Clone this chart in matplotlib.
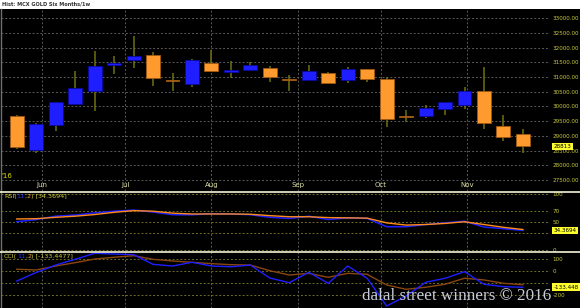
import matplotlib
matplotlib.use('Agg')
import matplotlib.pyplot as plt
import matplotlib.dates as mdates
import matplotlib.transforms as mtransforms
from matplotlib.offsetbox import TextArea, HPacker, AnchoredOffsetbox
from matplotlib.lines import Line2D
import pandas as pd

# ---------------- data ----------------
week_dates = pd.date_range('2016-05-23', periods=27, freq='7D')
opens  = [29680, 28520, 29360, 30085, 30527, 31422, 31572, 31742, 30890, 30776,
          31470, 31190, 31232, 31310, 30910, 30912, 31140, 30912, 31276, 30946,
          29660, 29667, 29905, 30051, 30527, 29347, 29055]
highs  = [29710, 29440, 30150, 31218, 31888, 31718, 32408, 31854, 31130, 31616,
          31922, 31548, 31514, 31388, 31061, 31422, 31174, 31354, 31280, 31014,
          29881, 30051, 30160, 30674, 31354, 29711, 29225]
lows   = [28545, 28430, 29180, 30080, 29857, 31106, 31320, 30708, 30538, 30674,
          31190, 30980, 31225, 30834, 30538, 30905, 30785, 30810, 30844, 29313,
          29463, 29599, 29721, 29915, 29245, 28817, 28409]
closes = [28630, 29395, 30140, 30619, 31378, 31480, 31718, 30980, 30870, 31572,
          31198, 31205, 31402, 30993, 30895, 31218, 30789, 31266, 30946, 29585,
          29645, 29960, 30153, 30538, 29429, 28953, 28640]
rsi     = [50, 54, 60, 62, 66, 69, 71, 67.5, 62.7, 62.5, 64.5, 64, 62.7, 58, 56,
           60, 54, 57, 56, 41, 41, 45, 48, 51, 40.5, 37.5, 34.37]
rsi_sig = [55, 55.5, 58, 60, 63, 67, 70, 69, 65.5, 64, 64, 64, 63.5, 61, 59,
           59, 57.5, 57, 56.5, 48, 44, 45, 47, 50, 45, 40, 36]
cci     = [-81, -10, 52, 100, 150, 144, 139, 58, 44, 75, 44, 38, 52, -56, -95,
           -8, -100, 44, -58, -289, -206, -92, -58, -3, -108, -128, -133.45]
cci_sig = [17, 11, 44, 72, 102, 117, 130, 100, 86, 75, 64, 55, 52, 5, -31,
           -17, -50, -17, -25, -114, -150, -133, -108, -58, -72, -100, -112]
month_starts = pd.date_range('2016-06-01', '2016-11-01', freq='MS')
month_labels = ['Jun', 'Jul', 'Aug', 'Sep', 'Oct', 'Nov']
price_ticks = list(range(27500, 33001, 500))
rsi_ticks = [0, 30, 50, 70, 100]
rsi_tick_labels = ['0', '', '50', '70', '100']
cci_ticks = [-200, -100, 0, 100]
cci_tick_labels = ['-200', '', '0', '100']
title = 'Hist: MCX GOLD Six Months/1w'
last_price_label = '28813'
rsi_value_label = '34.3694'
cci_value_label = '-133.448'

# ---------------- style ----------------
W, H = 580, 308
BLUE = '#1e1eff'
ORANGE = '#ff9a2e'
WICK = '#707010'
YEL = '#c8c83c'
GRID = '#5a5a5a'
OLGRID = '#6e6e28'
LBL = 4.1

fig = plt.figure(figsize=(W / 100, H / 100), dpi=100, facecolor='black')


def rect(x0, y0, x1, y1):
    return [x0 / W, 1 - y1 / H, (x1 - x0) / W, (y1 - y0) / H]


# title strip
ax_t = fig.add_axes(rect(0, 0, W, 9))
ax_t.set_facecolor('white')
ax_t.set_axis_off()
ax_t.add_patch(plt.Rectangle((0, 0), 1, 1, transform=ax_t.transAxes, color='white'))
ax_t.text(0.004, 0.5, title, transform=ax_t.transAxes, fontsize=3.6,
          fontweight='bold', color='#303030', va='center', ha='left')

ax_p = fig.add_axes(rect(1, 9, 550, 191))
ax_r = fig.add_axes(rect(1, 192, 550, 251))
ax_c = fig.add_axes(rect(1, 252, 550, 308))

x = mdates.date2num(week_dates)
xm = mdates.date2num(month_starts)
x0 = x[0] - 15.8 / 2.786
x1 = x[0] + (550 - 15.8) / 2.786

for ax in (ax_p, ax_r, ax_c):
    ax.set_facecolor('black')
    ax.set_xlim(x0, x1)
    for s in ax.spines.values():
        s.set_visible(False)
    ax.spines['left'].set_visible(True)
    ax.spines['left'].set_color('#707070')
    ax.spines['left'].set_linewidth(1.0)
    ax.set_xticks([])
    ax.yaxis.tick_right()
    ax.tick_params(axis='y', length=0, pad=2.0, labelsize=LBL, labelcolor=YEL)
    for xv in xm:
        ax.axvline(xv, color=GRID, lw=0.7, ls=(0, (2, 2)), zorder=0)

# ---------------- price panel ----------------
ax_p.set_ylim(27126, 33316)
ax_p.set_yticks(price_ticks)
ax_p.set_yticklabels([f'{v:.2f}' for v in price_ticks])
for v in price_ticks:
    ax_p.axhline(v, color=GRID, lw=0.7, ls=(0, (2, 2)), zorder=0)

ax_p.vlines(x, lows, highs, color=WICK, lw=1.1, zorder=2)
for xi, o, c in zip(x, opens, closes):
    up = c >= o
    fc = BLUE if up else ORANGE
    ec = '#0a0aa0' if up else '#a05a14'
    h = max(abs(c - o), 40)
    ax_p.bar(xi, h, bottom=min(o, c), width=5.0, color=fc, edgecolor=ec,
             linewidth=0.6, zorder=3)

for xv, lab in zip(xm, month_labels):
    ax_p.text(xv, 27330, lab, color='#e0e0a8', fontsize=5, ha='center', va='center')
ax_p.text(x0 + 0.3, 27636, "'16", color='#e0e000', fontsize=5, ha='left', va='center')

blend_p = mtransforms.blended_transform_factory(ax_p.transAxes, ax_p.transData)
ax_p.text(1.006, closes[-1], last_price_label, transform=blend_p, fontsize=LBL,
          color='black', ha='left', va='center', clip_on=False,
          bbox=dict(boxstyle='square,pad=0.25', fc='#ffff30', ec='none'))

# ---------------- RSI panel ----------------
ax_r.set_ylim(-2.7, 103.6)
ax_r.set_yticks(rsi_ticks)
ax_r.set_yticklabels(rsi_tick_labels)
for v in rsi_ticks:
    ax_r.axhline(v, color=OLGRID, lw=0.7, ls=(0, (2, 2)), zorder=0)
ax_r.plot(x, rsi, color=BLUE, lw=1.1, zorder=3)
ax_r.plot(x, rsi_sig, color='#ff8a1e', lw=1.0, zorder=4)
blend_r = mtransforms.blended_transform_factory(ax_r.transAxes, ax_r.transData)
ax_r.text(1.006, rsi[-1], rsi_value_label, transform=blend_r, fontsize=LBL,
          color='black', ha='left', va='center', clip_on=False,
          bbox=dict(boxstyle='square,pad=0.25', fc='#ffff30', ec='none'))

# ---------------- CCI panel ----------------
ax_c.set_ylim(-305.8, 160.8)
ax_c.set_yticks(cci_ticks)
ax_c.set_yticklabels(cci_tick_labels)
for v in cci_ticks:
    ax_c.axhline(v, color=OLGRID, lw=0.7, ls=(0, (2, 2)), zorder=0)
ax_c.plot(x, cci, color=BLUE, lw=1.0, zorder=4)
ax_c.plot(x, cci_sig, color='#8a4610', lw=1.0, zorder=3)
blend_c = mtransforms.blended_transform_factory(ax_c.transAxes, ax_c.transData)
ax_c.text(1.006, cci[-1], cci_value_label, transform=blend_c, fontsize=LBL,
          color='black', ha='left', va='center', clip_on=False,
          bbox=dict(boxstyle='square,pad=0.25', fc='#ffff30', ec='none'))


def panel_label(ax, parts):
    areas = [TextArea(t, textprops=dict(color=c, fontsize=4.6)) for t, c in parts]
    box = HPacker(children=areas, align='baseline', pad=0, sep=0)
    anc = AnchoredOffsetbox(loc='upper left', child=box, pad=0.1, frameon=False,
                            bbox_to_anchor=(0.003, 0.99),
                            bbox_transform=ax.transAxes, borderpad=0)
    ax.add_artist(anc)


panel_label(ax_r, [('RSI(', YEL), ('11', '#3030ff'), (',', YEL), ('2', ORANGE),
                   (') [' + rsi_value_label + ']', YEL)])
panel_label(ax_c, [('CCI(', YEL), ('11', '#3030ff'), (',', YEL), ('2', ORANGE),
                   (') [-133.4477]', YEL)])

# separators
for py in (191.5, 251.5):
    fig.add_artist(Line2D([0, 1], [1 - py / H, 1 - py / H], transform=fig.transFigure,
                          color='#f4f4d8', lw=1.2))

# watermark
fig.text(362 / W, 1 - 300 / H, 'dalal street winners \u00a9 2016',
         family='Liberation Serif', fontsize=12.3, color='#c8ccd8',
         ha='left', va='baseline')

fig.savefig('out.png', dpi=100, facecolor='black')
